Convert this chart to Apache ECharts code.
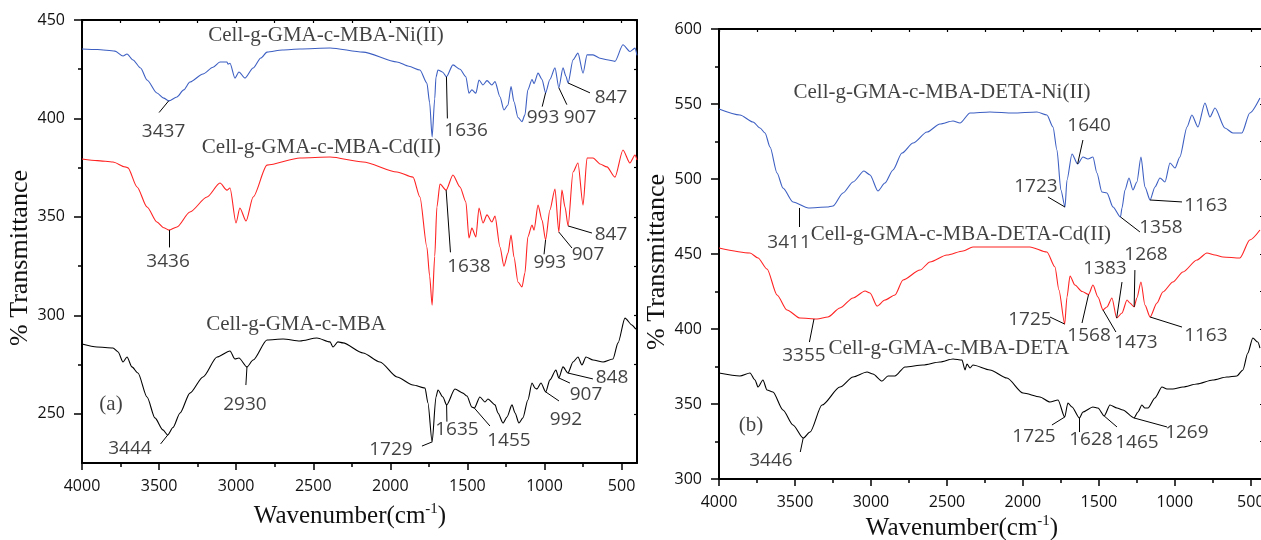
<!DOCTYPE html>
<html>
<head>
<meta charset="utf-8">
<script src="https://cdn.jsdelivr.net/npm/echarts@6.0.0/dist/echarts.min.js"></script>
<style>
  html, body { margin: 0; padding: 0; background: #fff; }
  #chart { width: 1261px; height: 540px; }
</style>
</head>
<body>
<div id="chart"></div>
<script>
// ---------- Panel (a): FTIR spectra, wavenumber (cm-1) vs % transmittance ----------
const aNiWave = [4000,3900,3786,3734,3708,3669,3620,3578,3514,3470,3437,3384,3340,3300,3215,3150,3105,3060,3053,3040,3008,2982,2943,2890,2840,2800,2700,2586,2391,2177,1957,1880,1808,1763,1745,1729,1712,1704,1691,1660,1636,1594,1548,1510,1490,1471,1445,1425,1399,1373,1341,1321,1289,1263,1237,1217,1198,1172,1146,1127,1108,1081,1068,1042,1016,993,965,932,907,880,861,847,815,783,750,724,685,640,595,543,491,446,413,400];
const aNiT    = [435.3,435.0,434.2,431.7,432.7,429.7,425.6,419.5,412.9,410.3,408.9,410.9,414.5,418.5,422.6,426.0,428.7,428.7,427.6,428.0,420.5,423.6,420.5,425.6,430.7,433.7,434.8,435.3,435.8,433.7,428.7,426.5,424.6,418.0,408.0,390.6,410.0,421.0,424.6,423.5,421.2,427.2,425.0,421.2,412.8,414.5,412.8,419.5,417.0,419.2,417.0,418.7,411.0,404.3,406.8,416.2,408.5,400.5,398.4,401.8,414.5,419.8,417.7,423.0,419.8,413.0,419.8,425.7,415.6,425.7,421.4,418.0,429.8,433.2,423.0,432.3,432.3,430.6,429.8,429.0,437.4,434.0,435.7,432.0];

const aCdWave = [4000,3900,3799,3721,3702,3643,3578,3514,3470,3436,3384,3300,3189,3105,3060,3040,3001,2976,2936,2890,2800,2586,2391,2177,1957,1853,1808,1763,1745,1729,1712,1698,1678,1638,1594,1548,1510,1490,1471,1445,1425,1399,1373,1341,1321,1289,1263,1237,1217,1198,1172,1146,1127,1108,1081,1068,1042,1016,993,965,932,907,887,867,847,815,783,750,724,685,640,595,543,491,446,413,400];
const aCdT    = [379.4,378.6,377.9,375.4,374.9,365.2,355.0,347.4,344.5,343.3,344.9,352.5,360.1,367.2,363.6,364.7,346.9,354.5,347.9,360.1,376.3,379.9,380.4,377.9,372.8,370.2,360.1,334.7,320.0,305.2,330.0,355.0,366.7,363.6,371.3,365.2,357.6,339.3,344.3,339.8,354.5,346.9,351.0,347.4,350.4,334.7,325.0,331.6,340.8,329.6,316.9,314.4,321.5,339.8,345.9,343.3,356.0,348.4,338.3,353.5,364.2,342.3,363.6,355.0,345.4,372.8,377.4,356.0,379.9,379.9,376.9,375.4,370.2,384.0,377.4,381.4,378.9];

const aMbaWave = [4000,3903,3799,3766,3734,3708,3676,3637,3578,3527,3475,3444,3410,3364,3300,3215,3124,3040,3008,2982,2930,2890,2800,2696,2586,2476,2391,2372,2340,2307,2177,2067,1957,1853,1775,1756,1729,1704,1691,1659,1635,1581,1529,1503,1471,1455,1419,1386,1367,1321,1302,1269,1243,1211,1191,1166,1140,1108,1081,1062,1049,1023,992,965,926,907,880,848,815,783,757,731,685,620,556,523,478,433,407,400];
const aMbaT    = [285.4,283.9,283.4,281.4,276.3,278.8,273.8,270.7,258.5,247.9,241.8,239.2,243.0,250.4,260.5,268.7,278.8,281.9,277.8,278.3,273.8,277.3,287.5,288.0,287.0,288.5,286.5,283.9,286.5,286.0,280.9,276.3,268.7,264.6,263.1,255.5,235.7,258.5,262.1,258.5,254.5,262.6,260.5,259.0,253.4,252.9,258.5,256.0,257.5,254.5,250.4,245.3,248.4,254.5,250.4,245.3,247.9,257.0,265.6,263.1,262.6,265.6,261.1,267.2,272.2,268.2,273.8,270.7,276.3,278.8,274.8,278.8,277.3,276.3,277.8,286.0,298.6,295.1,293.1,293.0];

// ---------- Panel (b) ----------
const bNiWave = [4000,3862,3776,3730,3697,3664,3618,3579,3513,3411,3289,3250,3184,3118,3046,3006,2954,2908,2855,2796,2723,2631,2546,2460,2414,2348,2217,2065,1908,1842,1802,1776,1750,1723,1710,1677,1640,1605,1572,1539,1513,1480,1447,1407,1358,1348,1328,1302,1276,1250,1223,1197,1163,1131,1098,1065,1032,999,967,920,888,848,802,769,736,671,618,559,507,440];
const bNiT    = [546.7,542.7,538.0,534.0,530.7,521.3,504.0,494.0,484.7,480.7,481.3,482.0,490.7,498.0,505.3,502.7,492.0,497.3,506.0,517.3,524.0,531.3,536.7,538.7,537.3,544.0,544.7,544.0,544.7,542.7,534.7,519.3,492.7,481.3,499.3,516.7,510.0,514.7,513.3,514.7,504.0,491.3,490.7,481.3,474.7,480.7,492.7,500.7,492.7,498.0,514.7,494.7,486.0,494.7,500.7,498.0,510.7,507.3,514.7,534.7,542.7,534.7,550.7,541.3,547.3,534.0,530.7,530.7,544.0,554.0];

const bCdWave = [4000,3796,3743,3684,3618,3553,3467,3355,3283,3204,3118,3039,3006,2960,2908,2842,2789,2677,2612,2500,2394,2329,2171,1954,1842,1789,1763,1725,1710,1690,1658,1610,1568,1539,1506,1473,1447,1414,1383,1348,1315,1296,1268,1250,1223,1197,1163,1118,1079,1013,947,855,789,736,684,572,507,440];
const bCdT    = [454.0,450.7,447.3,440.0,422.7,412.7,407.3,406.7,408.0,414.0,420.7,425.3,424.0,415.3,419.3,422.7,432.7,439.3,444.7,449.3,452.0,454.7,454.7,454.7,451.3,441.3,426.0,403.3,421.3,435.3,429.3,425.0,423.0,429.3,421.3,412.7,414.7,420.7,407.3,410.7,419.3,417.3,414.7,420.7,431.3,416.0,408.0,417.3,424.7,431.3,438.0,446.0,450.7,449.3,448.0,447.3,459.3,466.0];

const bDetaWave = [4000,3862,3796,3763,3743,3711,3684,3645,3579,3513,3446,3401,3322,3204,3118,3026,2987,2927,2888,2842,2776,2658,2546,2460,2401,2381,2368,2348,2329,2217,2105,1999,1888,1822,1769,1725,1704,1677,1628,1605,1539,1506,1465,1427,1381,1342,1269,1243,1217,1197,1177,1131,1085,1052,1013,947,855,750,658,592,552,520,487,454,440];
const bDetaT    = [370.7,368.7,370.7,366.0,361.3,366.0,359.3,358.0,346.0,336.0,327.3,331.3,349.3,361.3,368.0,371.3,370.0,365.3,368.7,368.7,374.7,376.0,378.0,380.0,379.3,372.7,376.7,374.0,376.0,372.7,367.3,357.3,354.7,351.3,352.7,341.3,350.7,348.0,340.7,344.7,348.0,347.3,342.0,349.3,347.3,346.0,340.7,344.7,349.3,347.3,347.3,354.0,361.3,360.0,360.0,361.3,363.3,366.0,368.0,368.7,372.7,384.0,394.0,391.3,387.3];

// Tick values
const xMajorTicks = [500, 1000, 1500, 2000, 2500, 3000, 3500, 4000];
const xMinorTicks = [750, 1250, 1750, 2250, 2750, 3250, 3750];
const aYMajorTicks = [250, 300, 350, 400, 450];
const aYMinorTicks = [275, 325, 375, 425];
const bYMajorTicks = [300, 350, 400, 450, 500, 550, 600];
const bYMinorTicks = [325, 375, 425, 475, 525, 575];

// Sample names: [text, wavenumber, transmittance] of the text centre
const aTitles = [
  ['Cell-g-GMA-c-MBA-Ni(II)', 2417, 441.9],
  ['Cell-g-GMA-c-MBA-Cd(II)', 2447, 385.0],
  ['Cell-g-GMA-c-MBA', 2612, 295.6],
  ['(a)', 3812, 254.5]
];
const bTitles = [
  ['Cell-g-GMA-c-MBA-DETA-Ni(II)', 2533, 558.0],
  ['Cell-g-GMA-c-MBA-DETA-Cd(II)', 2408, 463.3],
  ['Cell-g-GMA-c-MBA-DETA', 2487, 386.7],
  ['(b)', 3789, 336.0]
];

// Band assignments: [text, text wavenumber, text T, leader start wavenumber, start T, leader end wavenumber, end T]
const aBands = [
  ['3437', 3471, 393.4, 3437, 409.0, 3500, 403.0],
  ['1636', 1509, 393.6, 1636, 421.2, 1630, 400.0],
  ['993', 1010, 400.3, 993, 413.0, 1015, 406.0],
  ['907', 770, 400.3, 907, 415.6, 855, 407.0],
  ['847', 569, 410.4, 847, 418.0, 705, 413.0],
  ['3436', 3442, 327.1, 3436, 343.3, 3436, 334.5],
  ['1638', 1490, 324.6, 1638, 363.6, 1610, 332.0],
  ['993', 965, 326.6, 993, 338.3, 1003, 331.0],
  ['907', 718, 330.7, 907, 342.3, 822, 334.2],
  ['847', 569, 340.8, 847, 345.4, 692, 341.8],
  ['2930', 2943, 254.5, 2930, 273.8, 2937, 264.6],
  ['3444', 3689, 232.1, 3444, 239.2, 3490, 234.7],
  ['1729', 1996, 231.6, 1729, 235.7, 1795, 233.6],
  ['1635', 1568, 241.8, 1635, 254.5, 1633, 246.0],
  ['1455', 1231, 236.2, 1455, 252.9, 1354, 243.8],
  ['992', 861, 246.8, 992, 261.1, 906, 256.5],
  ['907', 731, 259.5, 907, 268.2, 835, 265.6],
  ['848', 562, 268.2, 848, 270.7, 686, 267.7]
];
const bBands = [
  ['3411', 3539, 457.3, 3474, 480.7, 3474, 468.0],
  ['1640', 1565, 535.3, 1640, 510.0, 1605, 526.0],
  ['1723', 1914, 494.7, 1723, 481.3, 1835, 488.0],
  ['1358', 1092, 467.3, 1358, 474.7, 1230, 464.7],
  ['1163', 796, 482.0, 1163, 486.0, 953, 484.7],
  ['3355', 3441, 382.0, 3375, 406.7, 3405, 391.3],
  ['1725', 1954, 406.0, 1725, 403.3, 1822, 408.0],
  ['1568', 1565, 395.3, 1568, 423.0, 1611, 404.0],
  ['1473', 1256, 390.7, 1473, 412.7, 1388, 398.0],
  ['1383', 1460, 440.0, 1383, 407.3, 1348, 431.3],
  ['1268', 1190, 449.3, 1268, 414.7, 1263, 439.3],
  ['1163', 796, 395.3, 1163, 408.0, 953, 401.3],
  ['3446', 3658, 312.0, 3446, 327.3, 3465, 318.0],
  ['1725', 1927, 328.0, 1725, 341.3, 1809, 336.0],
  ['1628', 1552, 326.0, 1628, 340.7, 1628, 331.3],
  ['1465', 1250, 324.0, 1465, 342.0, 1381, 334.7],
  ['1269', 921, 330.7, 1269, 340.7, 1052, 334.7]
];

// ---------- chart construction ----------
const BLUE = '#3d5fc2';
const RED = '#ff2222';
const BLACK = '#000000';
const SANS = '"Open Sans", "Noto Sans", sans-serif';
const SERIF = '"Liberation Serif", "DejaVu Serif", serif';

const zip = (xs, ys) => xs.map((x, i) => [x, ys[i]]);
const plain = v => String(v);

function xAxesFor(grid, min) {
  const base = { type: 'value', gridIndex: grid, min: min, max: 4000, inverse: true,
                 splitLine: { show: false } };
  return [
    Object.assign({}, base, {
      position: 'bottom',
      axisLine: { show: true, onZero: false, lineStyle: { color: BLACK, width: 2 } },
      axisTick: { show: true, length: 7, customValues: xMajorTicks, lineStyle: { color: BLACK, width: 1.5 } },
      axisLabel: { show: true, customValues: xMajorTicks, formatter: plain, margin: 15,
                   fontFamily: SANS, fontSize: 16, color: '#111' }
    }),
    Object.assign({}, base, {
      position: 'bottom',
      axisLine: { show: false },
      axisTick: { show: true, length: 4, customValues: xMinorTicks, lineStyle: { color: BLACK, width: 1.5 } },
      axisLabel: { show: false }
    }),
    Object.assign({}, base, {
      position: 'top',
      axisLine: { show: true, onZero: false, lineStyle: { color: BLACK, width: 2 } },
      axisTick: { show: true, inside: true, length: 3, customValues: xMajorTicks.concat(xMinorTicks), lineStyle: { color: BLACK, width: 1.2 } },
      axisLabel: { show: false }
    })
  ];
}

function yAxesFor(grid, min, max, majors, minors) {
  const base = { type: 'value', gridIndex: grid, min: min, max: max, splitLine: { show: false } };
  return [
    Object.assign({}, base, {
      position: 'left',
      axisLine: { show: true, onZero: false, lineStyle: { color: BLACK, width: 2 } },
      axisTick: { show: true, length: 8, customValues: majors, lineStyle: { color: BLACK, width: 1.5 } },
      axisLabel: { show: true, customValues: majors, formatter: plain, margin: 17,
                   fontFamily: SANS, fontSize: 16, color: '#111' }
    }),
    Object.assign({}, base, {
      position: 'left',
      axisLine: { show: false },
      axisTick: { show: true, length: 4, customValues: minors, lineStyle: { color: BLACK, width: 1.5 } },
      axisLabel: { show: false }
    }),
    Object.assign({}, base, {
      position: 'right',
      axisLine: { show: true, onZero: false, lineStyle: { color: BLACK, width: 2 } },
      axisTick: { show: true, inside: true, length: 3, customValues: majors.concat(minors), lineStyle: { color: BLACK, width: 1.2 } },
      axisLabel: { show: false }
    })
  ];
}

function spectrum(xi, yi, data, color) {
  return {
    type: 'line', xAxisIndex: xi, yAxisIndex: yi, data: data,
    showSymbol: false, symbol: 'none', smooth: 0.25, smoothMonotone: 'x',
    lineStyle: { color: color, width: 1.1 }, itemStyle: { color: color },
    silent: true, animation: false, z: 3
  };
}

function titleSeries(xi, yi, titles) {
  return {
    type: 'scatter', xAxisIndex: xi, yAxisIndex: yi, symbolSize: 0, silent: true, z: 5,
    itemStyle: { color: 'rgba(0,0,0,0)' },
    data: titles.map(t => ({ name: t[0], value: [t[1], t[2]] })),
    label: { show: true, position: 'inside', formatter: p => p.name,
             fontFamily: SERIF, fontSize: 21, color: '#111' }
  };
}

function bandSeries(xi, yi, bands) {
  return {
    type: 'scatter', xAxisIndex: xi, yAxisIndex: yi, symbolSize: 0, silent: true, z: 5,
    itemStyle: { color: 'rgba(0,0,0,0)' },
    data: bands.map(b => ({ name: b[0], value: [b[1], b[2]] })),
    label: { show: true, position: 'inside', formatter: p => p.name,
             fontFamily: SANS, fontSize: 19, color: '#111' },
    markLine: {
      silent: true, animation: false, symbol: ['none', 'none'],
      lineStyle: { color: BLACK, width: 1, type: 'solid' },
      label: { show: false },
      data: bands.map(b => [{ coord: [b[3], b[4]] }, { coord: [b[5], b[6]] }])
    }
  };
}

const chart = echarts.init(document.getElementById('chart'), null, { renderer: 'canvas' });

chart.setOption({
  backgroundColor: '#ffffff',
  animation: false,
  grid: [
    { left: 82, top: 20, width: 555, height: 443, containLabel: false, outerBoundsMode: 'none' },
    { left: 719, top: 29, width: 544, height: 450, containLabel: false, outerBoundsMode: 'none' }
  ],
  xAxis: xAxesFor(0, 400).concat(xAxesFor(1, 420)),
  yAxis: yAxesFor(0, 225, 450, aYMajorTicks, aYMinorTicks)
          .concat(yAxesFor(1, 300, 600, bYMajorTicks, bYMinorTicks)),
  series: [
    spectrum(0, 0, zip(aNiWave, aNiT), BLUE),
    spectrum(0, 0, zip(aCdWave, aCdT), RED),
    spectrum(0, 0, zip(aMbaWave, aMbaT), BLACK),
    titleSeries(0, 0, aTitles),
    bandSeries(0, 0, aBands),
    spectrum(3, 3, zip(bNiWave, bNiT), BLUE),
    spectrum(3, 3, zip(bCdWave, bCdT), RED),
    spectrum(3, 3, zip(bDetaWave, bDetaT), BLACK),
    titleSeries(3, 3, bTitles),
    bandSeries(3, 3, bBands)
  ],
  graphic: [
    { type: 'text', x: 20, y: 258, rotation: Math.PI / 2,
      style: { text: '% Transmittance', fill: '#111', font: '26px ' + SERIF, align: 'center', verticalAlign: 'middle' } },
    { type: 'text', x: 657, y: 262, rotation: Math.PI / 2,
      style: { text: '% Transmittance', fill: '#111', font: '26px ' + SERIF, align: 'center', verticalAlign: 'middle' } },
    { type: 'text', x: 350, y: 516,
      style: { text: '{m|Wavenumber(cm}{s|-1}{m|)}', align: 'center', verticalAlign: 'middle',
               rich: { m: { fontFamily: SERIF, fontSize: 25, fill: '#111', color: '#111' },
                       s: { fontFamily: SERIF, fontSize: 15, fill: '#111', color: '#111', padding: [0, 0, 14, 0] } } } },
    { type: 'text', x: 962, y: 528,
      style: { text: '{m|Wavenumber(cm}{s|-1}{m|)}', align: 'center', verticalAlign: 'middle',
               rich: { m: { fontFamily: SERIF, fontSize: 25, fill: '#111', color: '#111' },
                       s: { fontFamily: SERIF, fontSize: 15, fill: '#111', color: '#111', padding: [0, 0, 14, 0] } } } }
  ]
});
</script>
</body>
</html>
